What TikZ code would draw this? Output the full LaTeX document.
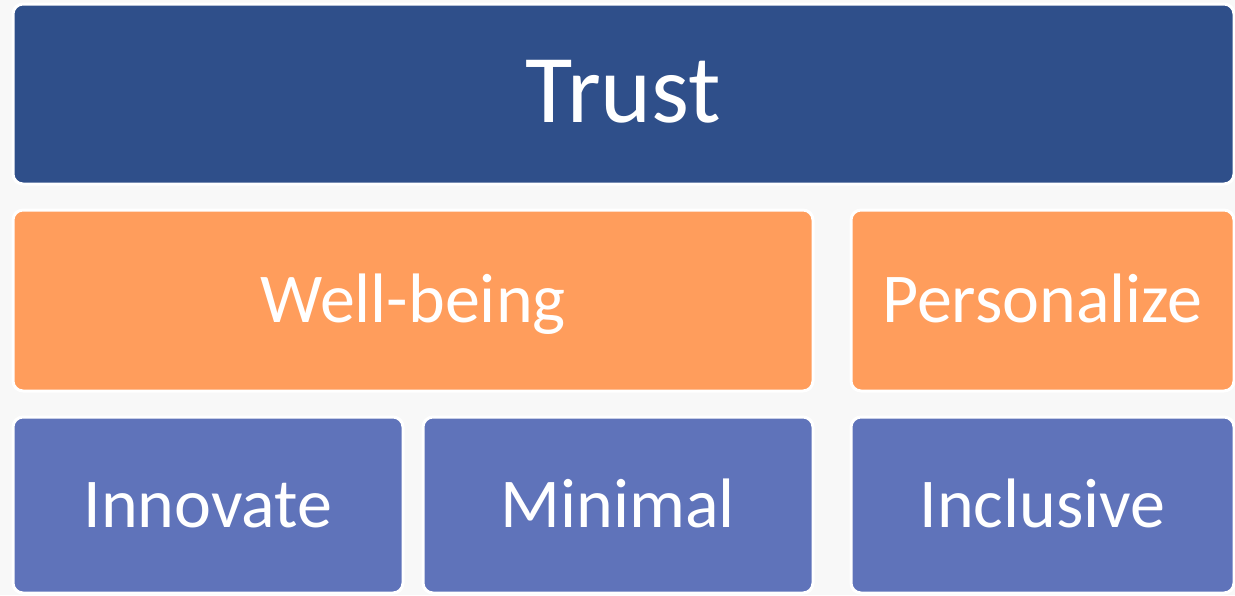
\documentclass[tikz,border=0pt]{standalone}
\usepackage{fontspec}
\setmainfont{Carlito}
\definecolor{trustblue}{HTML}{2F4F8A}
\definecolor{pillarorange}{HTML}{FF9D5C}
\definecolor{baseblue}{HTML}{5F73BA}
\definecolor{pagegray}{HTML}{F8F8F8}
\begin{document}
\begin{tikzpicture}[
    x=1pt, y=-1pt,
    tile/.style={rectangle, draw=white, line width=3pt, rounded corners=10pt, text=white, inner sep=0pt},
    bigtext/.style={font=\fontsize{97}{100}\selectfont, text height=66pt, text depth=10pt},
    midtext/.style={font=\fontsize{70}{74}\selectfont, text height=52pt, text depth=8pt}
]

% background
\fill[pagegray] (0,0) rectangle (1235,595);
\useasboundingbox (0,0) rectangle (1235,595);

% === TOP ROW ===
\node[tile, bigtext, fill=trustblue, minimum width=1221pt, minimum height=180pt] (trust) at (623.5,94) {Trust};

% === MIDDLE ROW ===
\node[tile, midtext, fill=pillarorange, minimum width=800pt, minimum height=181pt] (wellbeing) at (413,300.5) {Well-being};
\node[tile, midtext, fill=pillarorange, minimum width=383pt, minimum height=181pt] (personalize) at (1042.5,300.5) {Personalize};

% === BOTTOM ROW ===
\node[tile, midtext, fill=baseblue, minimum width=390pt, minimum height=176pt] (innovate) at (208,505) {Innovate};
\node[tile, midtext, fill=baseblue, minimum width=390pt, minimum height=176pt] (minimal) at (618,505) {Minimal};
\node[tile, midtext, fill=baseblue, minimum width=383pt, minimum height=176pt] (inclusive) at (1042.5,505) {Inclusive};

\end{tikzpicture}
\end{document}
